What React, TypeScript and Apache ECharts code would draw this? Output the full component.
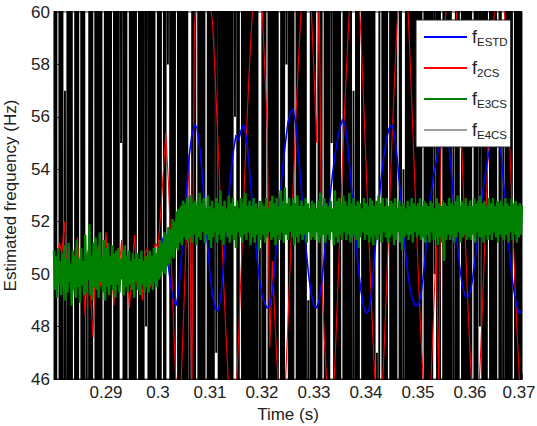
import React, { useEffect, useRef } from "react";
import * as echarts from "echarts";

const FONT = "'Liberation Sans', Arial, Helvetica, sans-serif";
const T0 = 0.28;

// Tick labels on the time axis (0.28 itself is left unlabeled)
const timeTicks = [0.29, 0.3, 0.31, 0.32, 0.33, 0.34, 0.35, 0.36, 0.37];
const freqTicks = [46, 48, 50, 52, 54, 56, 58, 60];

// Series names, legend order
const seriesNames = ["f_ESTD", "f_2CS", "f_E3CS", "f_E4CS"];

// f_ESTD, sampled every 0.5 ms from 0.28 s
const estdStep = 0.0005;
const estd = [
  50.1, 50.0, 50.2, 49.9, 50.1, 50.3, 50.0, 49.8, 50.1, 50.2,
  50.0, 49.9, 50.2, 50.1, 49.8, 50.0, 50.3, 50.1, 49.9, 50.0,
  50.2, 50.0, 49.8, 50.1, 50.2, 49.9, 50.0, 50.3, 50.1, 49.8,
  50.0, 50.2, 50.1, 49.9, 50.0, 50.2, 50.0, 49.9, 50.1, 50.3,
  50.4, 50.9, 51.4, 51.1, 50.3, 49.5, 49.0, 48.8, 49.4, 50.6,
  52.0, 53.3, 54.5, 55.3, 55.7, 55.6, 54.9, 53.8, 52.5, 51.2,
  50.0, 49.2, 48.7, 48.6, 49.0, 50.1, 51.4, 52.7, 53.8, 54.7,
  55.3, 55.1, 55.5, 55.7, 55.2, 54.2, 53.0, 51.8, 50.7, 49.8,
  49.2, 48.9, 48.7, 48.8, 49.3, 50.4, 51.7, 53.0, 54.1, 55.0,
  55.8, 56.2, 56.3, 55.7, 54.6, 53.4, 52.1, 50.9, 49.9, 49.2,
  48.8, 48.7, 49.0, 49.7, 50.7, 51.8, 52.8, 53.7, 54.5, 55.1,
  55.6, 55.9, 55.7, 54.9, 53.8, 52.6, 51.4, 50.3, 49.4, 48.8,
  48.5, 48.6, 49.2, 50.3, 51.6, 52.8, 53.8, 54.6, 55.2, 55.6,
  55.7, 55.3, 54.4, 53.3, 52.1, 51.0, 50.1, 49.4, 49.0, 48.8,
  48.8, 49.1, 49.9, 50.9, 52.0, 53.0, 53.8, 54.3, 54.9, 55.3,
  55.5, 55.4, 54.8, 53.7, 52.4, 51.2, 50.3, 49.6, 49.2, 49.1,
  49.3, 49.8, 50.6, 51.5, 52.4, 53.2, 53.9, 54.5, 55.0, 55.4,
  55.6, 55.3, 54.5, 53.4, 52.2, 51.0, 50.0, 49.3, 48.8, 48.5,
  48.6,
];

// f_2CS, sampled every 0.5 ms from 0.28 s
const twoCsStep = 0.0005;
const twoCs = [
  50.3, 49.6, 51.2, 50.8, 52.0, 49.7, 50.2, 48.9, 50.6, 51.4,
  49.8, 50.1, 48.4, 50.9, 49.3, 47.6, 50.4, 51.1, 49.5, 50.2,
  51.6, 49.2, 50.5, 48.8, 50.9, 50.1, 51.3, 49.4, 50.7, 48.7,
  50.2, 51.5, 49.6, 50.3, 49.0, 50.8, 51.0, 49.5, 50.4, 51.2,
  51.0, 52.3, 53.8, 55.4, 53.5, 50.8, 48.0, 45.6, 44.2, 46.1,
  48.9, 51.8, 54.6, 45.0, 59.4, 61.0, 62.1, 62.6, 62.3, 61.0,
  60.3, 59.6, 57.5, 55.2, 52.8, 50.3, 48.0, 46.0, 44.6, 44.1,
  45.3, 47.6, 50.2, 52.9, 55.3, 57.6, 59.5, 61.2, 62.4, 62.0,
  60.3, 58.0, 55.6, 47.2, 50.5, 48.1, 46.2, 44.7, 44.3, 45.8,
  48.2, 50.8, 53.4, 55.9, 58.1, 60.0, 61.6, 62.5, 61.8, 60.0,
  57.7, 55.0, 60.8, 49.9, 47.5, 45.6, 44.4, 44.6, 46.5, 49.0,
  51.7, 54.3, 56.8, 58.9, 60.8, 62.1, 62.4, 61.2, 59.2, 56.8,
  54.2, 51.6, 49.1, 46.8, 45.0, 44.1, 45.0, 47.2, 49.8, 52.5,
  55.1, 57.5, 59.6, 61.3, 62.4, 62.0, 60.4, 58.1, 55.5, 52.9,
  50.3, 47.9, 45.9, 44.5, 44.4, 46.0, 48.5, 51.1, 45.8, 56.3,
  58.6, 60.6, 62.0, 62.5, 61.5, 59.5, 57.0, 54.4, 51.8, 49.3,
  47.0, 45.2, 44.2, 44.8, 46.8, 49.3, 52.0, 54.7, 57.2, 59.4,
  61.2, 62.3, 62.1, 60.6, 58.3, 55.7, 53.0, 50.4, 48.0, 46.0,
  44.7,
];

// f_E3CS, sampled every 0.2 ms from 0.28 s
const e3csStep = 0.0002;
const e3cs = [
  50.9, 49.4, 50.7, 49.1, 51.0, 49.6, 50.5, 49.2, 50.8, 49.5,
  51.1, 49.0, 50.6, 49.3, 51.2, 49.7, 50.4, 48.8, 50.9, 49.4,
  50.7, 49.1, 51.3, 49.5, 50.6, 48.9, 51.0, 49.6, 50.5, 49.2,
  51.5, 49.3, 50.8, 49.8, 51.9, 49.2, 50.7, 49.0, 51.2, 49.5,
  51.4, 49.4, 50.9, 49.1, 51.6, 49.7, 50.6, 49.3, 51.3, 49.0,
  51.0, 49.5, 51.2, 49.2, 50.7, 49.6, 51.1, 49.4, 50.8, 49.1,
  50.9, 49.6, 51.0, 49.3, 50.6, 49.8, 50.9, 49.2, 51.1, 49.5,
  50.7, 49.3, 50.9, 49.6, 50.5, 49.4, 50.8, 49.1, 50.6, 49.7,
  50.8, 49.4, 50.6, 49.2, 50.9, 49.6, 50.5, 49.3, 50.7, 49.5,
  50.6, 49.3, 50.9, 49.6, 50.7, 49.4, 51.0, 49.7, 50.8, 49.5,
  51.0, 49.8, 51.3, 49.9, 51.2, 50.1, 51.6, 50.0, 51.5, 50.3,
  51.8, 50.4, 51.7, 50.7, 52.1, 50.6, 52.0, 51.0, 52.4, 50.9,
  52.5, 51.2, 52.6, 51.1, 52.8, 51.4, 52.7, 51.3, 52.9, 51.2,
  52.6, 51.4, 53.0, 51.2, 52.7, 51.5, 52.8, 51.1, 52.6, 51.4,
  53.1, 51.3, 52.7, 51.6, 52.9, 51.2, 52.5, 51.5, 53.0, 51.3,
  52.6, 51.0, 52.8, 51.4, 52.5, 51.6, 52.9, 51.2, 52.7, 51.5,
  53.2, 51.3, 52.6, 51.1, 52.8, 51.6, 52.5, 51.4, 53.0, 51.2,
  52.7, 51.5, 52.9, 51.3, 52.6, 51.0, 52.8, 51.6, 52.5, 51.4,
  52.9, 51.2, 52.7, 51.5, 53.1, 51.3, 52.6, 51.6, 52.8, 51.1,
  52.6, 51.4, 52.9, 51.2, 52.7, 51.5, 52.5, 50.9, 52.8, 51.3,
  52.7, 51.5, 52.6, 51.2, 52.9, 51.4, 52.5, 51.6, 52.8, 51.3,
  53.0, 51.4, 52.7, 51.1, 52.9, 51.5, 52.6, 51.3, 53.2, 51.6,
  52.8, 51.2, 53.3, 51.5, 52.7, 51.3, 52.9, 51.6, 52.6, 51.4,
  52.9, 51.1, 52.7, 51.4, 53.0, 51.2, 52.6, 51.5, 52.8, 51.3,
  52.6, 51.5, 52.9, 51.2, 52.7, 51.6, 52.5, 51.3, 52.8, 51.4,
  52.7, 51.3, 52.5, 51.6, 52.8, 51.2, 53.1, 51.4, 52.6, 51.5,
  52.9, 51.2, 52.7, 51.5, 52.6, 51.3, 52.8, 51.6, 52.5, 51.1,
  53.2, 51.4, 52.8, 51.2, 52.9, 51.5, 52.7, 51.3, 53.0, 51.6,
  52.8, 51.3, 52.6, 51.5, 53.1, 51.2, 52.7, 51.4, 52.9, 51.5,
  52.6, 51.3, 52.8, 51.0, 52.7, 51.4, 52.5, 51.6, 52.9, 51.3,
  52.7, 51.5, 52.6, 51.2, 52.9, 51.4, 52.8, 51.1, 52.6, 51.5,
  52.8, 51.3, 53.0, 51.5, 52.7, 51.2, 52.9, 51.6, 52.6, 51.4,
  52.9, 51.2, 52.6, 51.4, 52.8, 51.5, 52.7, 51.1, 52.9, 51.3,
  52.5, 51.6, 52.8, 51.2, 52.6, 50.9, 52.7, 51.4, 52.5, 51.5,
  52.8, 51.3, 52.6, 51.5, 52.9, 51.2, 52.7, 51.6, 52.6, 51.4,
  52.7, 51.5, 52.9, 51.3, 52.6, 51.4, 52.8, 51.2, 52.7, 51.5,
  52.6, 51.2, 52.8, 51.6, 52.7, 51.3, 52.5, 51.4, 52.9, 51.1,
  52.7, 51.4, 52.6, 51.2, 52.8, 50.5, 52.7, 51.3, 52.6, 51.5,
  52.9, 51.3, 52.7, 51.5, 52.6, 51.2, 52.8, 51.4, 53.0, 51.6,
  52.6, 51.2, 52.8, 51.4, 52.7, 51.5, 52.9, 51.3, 52.6, 51.4,
  52.8, 51.3, 52.6, 51.5, 52.9, 51.2, 52.7, 51.6, 52.8, 51.4,
  53.0, 51.4, 52.7, 51.2, 52.8, 51.5, 52.6, 51.3, 52.9, 51.5,
  52.7, 51.3, 52.9, 51.6, 52.6, 51.4, 52.8, 51.2, 52.7, 51.5,
  52.8, 51.4, 52.6, 51.3, 52.9, 51.5, 52.7, 51.2, 52.6, 51.6,
  52.9, 51.3, 52.7, 51.5, 52.8, 51.2, 52.6, 51.4, 52.7, 51.5,
  52.6,
];

// f_E4CS, sampled every 0.3 ms from 0.28 s; it swings far beyond the axis limits
const e4csStep = 0.0003;
const e4cs = [
  120, -20, 120, 120, -20, 120, -20, 57, -20, 120,
  -20, 120, -20, -20, 120, -20, 120, 120, -20, 120,
  -20, 50, -20, 120, -20, 120, 120, -20, 120, -20,
  120, -20, -20, 120, -20, 120, -20, 120, 120, -20,
  120, -20, 120, 55, 120, -20, 120, -20, -20, 120,
  -20, 120, -20, 120, 120, -20, 120, -20, 120, 48,
  120, -20, 120, -20, 120, -20, -20, 120, -20, 120,
  120, -20, 120, 58, 120, -20, 120, -20, 120, 120,
  -20, 120, -20, 120, -20, 120, -20, 53, -20, 120,
  -20, 120, 120, -20, 120, -20, 120, -20, -20, 120,
  -20, 120, -20, 120, 47, 120, -20, 120, -20, 120,
  -20, 120, -20, 120, -20, 120, 56, 120, -20, 120,
  120, -20, 120, -20, 120, -20, 120, -20, 120, -20,
  120, -20, 51, -20, 120, -20, 120, 120, -20, 120,
  -20, 120, -20, 120, -20, -20, 120, -20, 120, 58,
  120, -20, 120, -20, 120, 120, -20, 120, -20, 120,
  -20, 120, -20, 49, -20, 120, -20, 120, -20, -20,
  120, -20, 120, 120, -20, 120, -20, 120, 55, 120,
  -20, 120, -20, 120, -20, -20, 120, -20, 120, -20,
  120, -20, 57, -20, 120, -20, 120, 120, -20, 120,
  -20, 120, -20, 120, -20, 120, -20, 47, -20, 120,
  120, -20, 120, -20, 120, 120, -20, 120, -20, 120,
  -20, -20, 120, -20, 54, -20, 120, -20, 120, -20,
  120, -20, 120, -20, 120, -20, 120, 120, -20, 120,
  -20, 120, -20, 120, 50, 120, -20, 120, -20, -20,
  120, -20, 120, -20, 120, -20, 57, -20, 120, -20,
  120, 120, -20, 120, -20, 120, -20, 120, -20, -20,
  120, -20, 120, 48, 120, -20, 120, -20, 120, 120,
  -20, 120, -20, 120, -20, -20, 120, -20, 56, -20,
  120, -20, 120, -20, 120, 120, -20, 120, -20, 120,
  -20,
];

const toPairs = (values: number[], step: number) =>
  values.map((v, i) => [Number((T0 + i * step).toFixed(5)), v]);

const lastTick = timeTicks[timeTicks.length - 1];

// The last label sits at the right edge of the page, so it is nudged left a little
const fmtTime = (v: number) => {
  const hit = timeTicks.find((t) => Math.abs(t - v) < 1e-6);
  if (hit === undefined) return "";
  return hit === lastTick ? `{edge|${hit}}` : String(hit);
};

const noMarker = { color: "rgba(0,0,0,0)", borderWidth: 0 };

export default function App() {
  const ref = useRef<HTMLDivElement>(null);

  useEffect(() => {
    if (!ref.current) return;
    const chart = echarts.init(ref.current, undefined, { renderer: "svg" });
    const axisColor = "#333";
    const textColor = "#222";

    chart.setOption({
      animation: false,
      backgroundColor: "#fff",
      grid: {
        left: 54,
        right: 15,
        top: 12,
        bottom: 47,
        outerBoundsMode: "none",
        containLabel: false,
        show: true,
        borderColor: axisColor,
        borderWidth: 1,
        backgroundColor: "#fff",
      },
      legend: {
        orient: "vertical",
        left: 416,
        top: 20,
        backgroundColor: "#fff",
        borderColor: "#222",
        borderWidth: 1,
        padding: [6, 3, 6, 7],
        itemWidth: 43,
        itemHeight: 2,
        itemGap: 9,
        itemTextGap: 3,
        selectedMode: false,
        itemStyle: noMarker,
        data: [
          { name: "f_ESTD", itemStyle: noMarker },
          { name: "f_2CS", itemStyle: noMarker },
          { name: "f_E3CS", itemStyle: noMarker },
          { name: "f_E4CS", itemStyle: noMarker, lineStyle: { color: "#808080", width: 1.5 } },
        ],
        formatter: (name: string) => `{f|f}{s|${name.split("_")[1]}}`,
        textStyle: {
          fontFamily: FONT,
          color: textColor,
          rich: {
            f: { fontSize: 18, lineHeight: 20, color: textColor, fontFamily: FONT },
            s: { fontSize: 11.5, lineHeight: 12, padding: [10, 0, 0, 0], color: textColor, fontFamily: FONT },
          },
        },
      },
      xAxis: {
        type: "value",
        min: 0.28,
        max: 0.37,
        interval: 0.01,
        name: "Time (s)",
        nameLocation: "middle",
        nameGap: 25,
        nameTextStyle: { fontSize: 17, color: textColor, fontFamily: FONT },
        axisLine: { show: true, onZero: false, lineStyle: { color: axisColor } },
        axisTick: { show: true, inside: true, length: 5, lineStyle: { color: axisColor } },
        axisLabel: {
          fontSize: 17,
          color: textColor,
          fontFamily: FONT,
          margin: 5,
          formatter: fmtTime,
          rich: {
            edge: { fontSize: 17, color: textColor, fontFamily: FONT, padding: [0, 6, 0, 0] },
          },
        },
        splitLine: { show: false },
      },
      yAxis: {
        type: "value",
        min: freqTicks[0],
        max: freqTicks[freqTicks.length - 1],
        interval: 2,
        name: "Estimated frequency (Hz)",
        nameLocation: "middle",
        nameRotate: 90,
        nameGap: 35,
        nameTextStyle: { fontSize: 17, color: textColor, fontFamily: FONT },
        axisLine: { show: true, onZero: false, lineStyle: { color: axisColor } },
        axisTick: { show: true, inside: true, length: 5, lineStyle: { color: axisColor } },
        axisLabel: { fontSize: 17, color: textColor, fontFamily: FONT, margin: 4 },
        splitLine: { show: false },
      },
      series: [
        {
          name: seriesNames[3],
          type: "line",
          data: toPairs(e4cs, e4csStep),
          symbol: "none",
          silent: true,
          clip: true,
          lineStyle: { color: "#000", width: 1.9 },
          itemStyle: { color: "#000" },
        },
        {
          name: seriesNames[1],
          type: "line",
          data: toPairs(twoCs, twoCsStep),
          symbol: "none",
          silent: true,
          clip: true,
          lineStyle: { color: "#ff0000", width: 1.1 },
          itemStyle: { color: "#ff0000" },
        },
        {
          name: seriesNames[0],
          type: "line",
          data: toPairs(estd, estdStep),
          symbol: "none",
          silent: true,
          clip: true,
          lineStyle: { color: "#0000ff", width: 1.6 },
          itemStyle: { color: "#0000ff" },
        },
        {
          name: seriesNames[2],
          type: "line",
          data: toPairs(e3cs, e3csStep),
          symbol: "none",
          silent: true,
          clip: true,
          lineStyle: { color: "#008000", width: 2.4 },
          itemStyle: { color: "#008000" },
        },
      ],
    });

    return () => chart.dispose();
  }, []);

  return (
    <div
      ref={ref}
      style={{ position: "fixed", left: 0, top: 0, width: 537, height: 426, background: "#fff" }}
    />
  );
}
